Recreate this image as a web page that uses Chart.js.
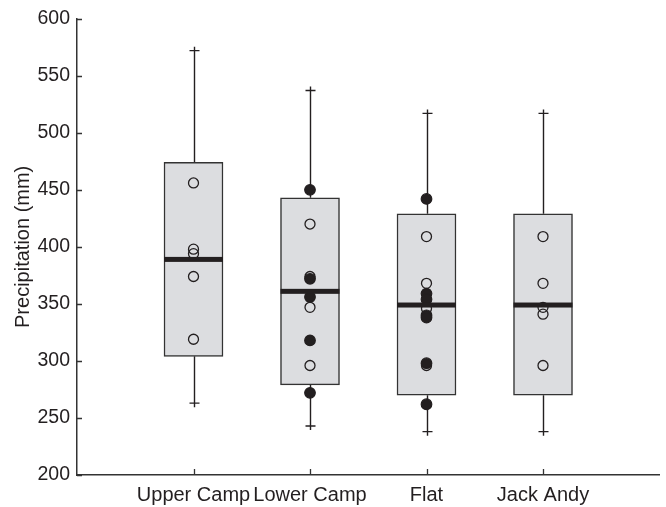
<!DOCTYPE html>
<html>
<head>
<meta charset="utf-8">
<script src="https://cdn.jsdelivr.net/npm/chart.js@4"></script>
<style>
  html, body { margin: 0; padding: 0; background: #fff; }
  #wrap { width: 666px; height: 507px; }
</style>
</head>
<body>
<div id="wrap"><canvas id="c"></canvas></div>
<script>
// Precipitation by site: box (quartiles), whiskers, median, and individual years
const sites = ['Upper Camp', 'Lower Camp', 'Flat', 'Jack Andy'];
const whiskerLow  = [263, 243, 238, 238];
const quartile1   = [304, 279, 270, 270];
const medians     = [389, 361, 349, 349];
const quartile3   = [474, 443, 429, 429];
const whiskerHigh = [572, 537, 517, 517];
const openValues = [
  [456, 398, 394, 374, 319],
  [420, 374, 347, 296],
  [409, 368, 346, 296],
  [409, 368, 347, 341, 296]
];
const filledValues = [
  [],
  [450, 372, 356, 318, 272],
  [442, 359, 354, 340, 338, 298, 262],
  []
];
const yTickValues = [200, 250, 300, 350, 400, 450, 500, 550, 600];

const INK = '#231f20';
const FONT = '"Liberation Sans", Arial, Helvetica, sans-serif';
const BOX_WIDTH = 59;

const toPoints = (groups) => groups.flatMap((vals, i) => vals.map(v => ({ x: i + 1, y: v })));

const boxParts = {
  id: 'boxParts',
  beforeDatasetsDraw(chart) {
    const { ctx, scales: { x, y } } = chart;
    ctx.save();
    ctx.strokeStyle = INK;
    ctx.lineWidth = 1.4;
    sites.forEach((s, i) => {
      const cx = Math.round(x.getPixelForValue(i + 1)) + 0.5;
      const yHi = y.getPixelForValue(whiskerHigh[i]);
      const yLo = y.getPixelForValue(whiskerLow[i]);
      const yQ3 = y.getPixelForValue(quartile3[i]);
      const yQ1 = y.getPixelForValue(quartile1[i]);
      ctx.beginPath();
      ctx.moveTo(cx, yQ3); ctx.lineTo(cx, yHi - 4);
      ctx.moveTo(cx, yQ1); ctx.lineTo(cx, yLo + 4);
      ctx.moveTo(cx - 5, yHi); ctx.lineTo(cx + 5, yHi);
      ctx.moveTo(cx - 5, yLo); ctx.lineTo(cx + 5, yLo);
      ctx.stroke();
    });
    ctx.restore();
  },
  afterDatasetsDraw(chart) {
    const { ctx, scales: { x, y } } = chart;
    ctx.save();
    ctx.fillStyle = INK;
    sites.forEach((s, i) => {
      const cx = x.getPixelForValue(i + 1);
      const ym = y.getPixelForValue(medians[i]);
      ctx.fillRect(cx - BOX_WIDTH / 2, ym - 2.5, BOX_WIDTH, 5);
    });
    // tick marks pointing into the plot
    ctx.strokeStyle = '#333';
    ctx.lineWidth = 1.3;
    ctx.beginPath();
    const left = chart.chartArea.left;
    const bottom = chart.chartArea.bottom;
    yTickValues.forEach(v => {
      const py = Math.round(y.getPixelForValue(v)) + 0.5;
      ctx.moveTo(left, py); ctx.lineTo(left + 5, py);
    });
    sites.forEach((s, i) => {
      const px = Math.round(x.getPixelForValue(i + 1)) + 0.5;
      ctx.moveTo(px, bottom); ctx.lineTo(px, bottom - 6);
    });
    ctx.stroke();
    ctx.restore();
  }
};

new Chart(document.getElementById('c'), {
  type: 'bar',
  data: {
    datasets: [
      {
        type: 'scatter',
        data: toPoints(filledValues),
        pointStyle: 'circle',
        pointRadius: 5.3,
        pointBorderWidth: 1.2,
        pointBackgroundColor: INK,
        pointBorderColor: INK,
        order: 1
      },
      {
        type: 'scatter',
        data: toPoints(openValues),
        pointStyle: 'circle',
        pointRadius: 5,
        pointBorderWidth: 1.3,
        pointBackgroundColor: 'rgba(255,255,255,0)',
        pointBorderColor: INK,
        order: 2
      },
      {
        type: 'bar',
        data: sites.map((s, i) => ({ x: i + 1, y: [quartile1[i], quartile3[i]] })),
        backgroundColor: '#dcdde0',
        borderColor: '#333',
        borderWidth: 1.5,
        borderSkipped: false,
        barThickness: BOX_WIDTH,
        order: 3
      }
    ]
  },
  options: {
    responsive: true,
    maintainAspectRatio: false,
    animation: false,
    layout: { padding: { top: 16, right: 6, left: 0, bottom: 0 } },
    plugins: {
      legend: { display: false },
      tooltip: { enabled: false }
    },
    scales: {
      x: {
        type: 'linear',
        min: 0,
        max: 5,
        offset: false,
        grid: { display: false, drawTicks: false },
        border: { display: true, color: '#333', width: 1.5 },
        afterBuildTicks: (s) => { s.ticks = [1, 2, 3, 4].map(v => ({ value: v })); },
        afterFit: (s) => { s.height = 32; },
        ticks: {
          autoSkip: false,
          maxRotation: 0,
          padding: 8,
          color: INK,
          font: { family: FONT, size: 20 },
          callback: (v) => sites[v - 1] || ''
        }
      },
      y: {
        min: 200,
        max: 600,
        grid: { display: false, drawTicks: false },
        border: { display: true, color: '#333', width: 1.5 },
        afterBuildTicks: (s) => { s.ticks = yTickValues.map(v => ({ value: v })); },
        afterFit: (s) => { s.width = 77; },
        ticks: {
          padding: 7,
          color: INK,
          font: { family: FONT, size: 19.5 }
        },
        title: {
          display: true,
          text: 'Precipitation (mm)',
          color: INK,
          padding: { top: 11, bottom: 4 },
          font: { family: FONT, size: 20 }
        }
      }
    }
  },
  plugins: [boxParts]
});
</script>
</body>
</html>
